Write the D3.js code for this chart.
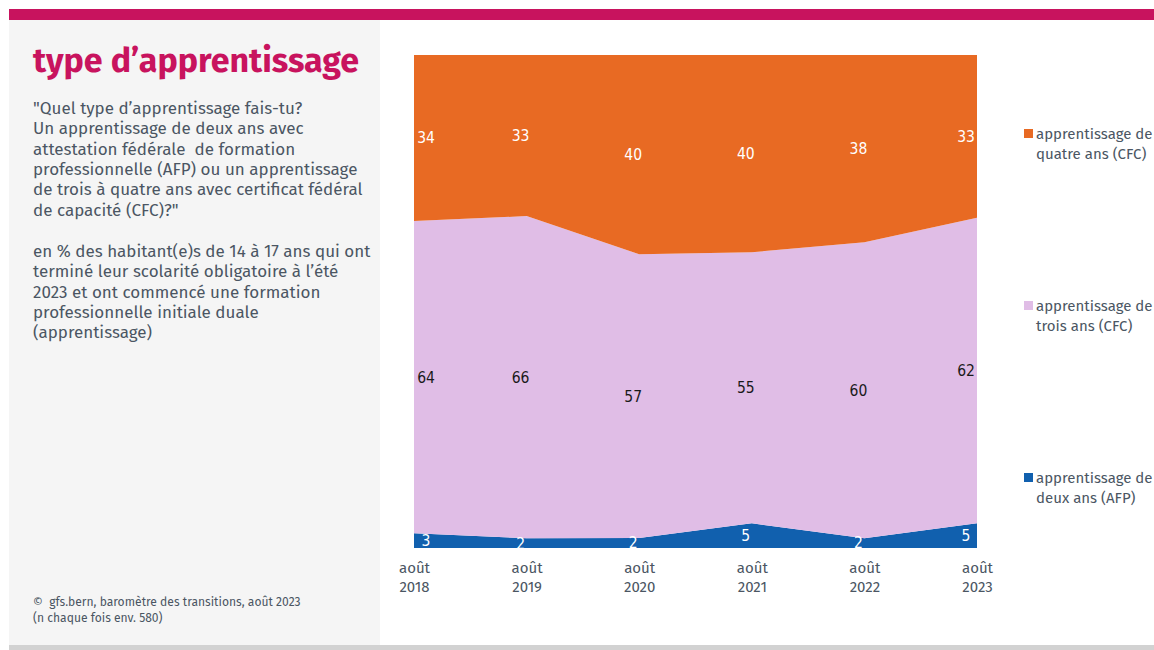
<!DOCTYPE html>
<html>
<head>
<meta charset="utf-8">
<script src="https://cdn.jsdelivr.net/npm/d3@7"></script>
<style>
  body { margin: 0; background: #fff; }
  svg { display: block; }
</style>
</head>
<body>
<script>
// data (in %)
var years = ["2018", "2019", "2020", "2021", "2022", "2023"];
var deuxAns = [3, 2, 2, 5, 2, 5];      // AFP
var troisAns = [64, 66, 57, 55, 60, 62]; // CFC 3 ans
var quatreAns = [34, 33, 40, 40, 38, 33]; // CFC 4 ans
var seriesKeys = ["deux", "trois", "quatre"];
var seriesLabels = [
  ["apprentissage de", "deux ans (AFP)"],
  ["apprentissage de", "trois ans (CFC)"],
  ["apprentissage de", "quatre ans (CFC)"]
];
var seriesColors = ["#1160ae", "#e0bde6", "#e86a23"];
var labelColors = ["#ffffff", "#1a1a1a", "#ffffff"];

var width = 1154, height = 650;
var plot = {left: 414, right: 977, top: 55, bottom: 548};
var textFont = "'Fira Sans', Roboto, 'Noto Sans', sans-serif";
var numFont = "'Liberation Sans Narrow', 'DejaVu Sans Condensed', Roboto, sans-serif";
var grey = "#4b5663";

var rows = years.map(function(y, i) {
  return {year: y, deux: deuxAns[i], trois: troisAns[i], quatre: quatreAns[i]};
});

var stacked = d3.stack().keys(seriesKeys).offset(d3.stackOffsetExpand)(rows);

var x = d3.scalePoint().domain(years).range([plot.left, plot.right]);
var y = d3.scaleLinear().domain([0, 1]).range([plot.bottom, plot.top]);

var svg = d3.select("body").append("svg").attr("width", width).attr("height", height);

// frame: pink top bar, grey side panel, bottom bar
svg.append("rect").attr("x", 9).attr("y", 9).attr("width", width - 9).attr("height", 11).attr("fill", "#c8135e");
svg.append("rect").attr("x", 9).attr("y", 20).attr("width", 371).attr("height", 625).attr("fill", "#f5f5f5");
svg.append("rect").attr("x", 9).attr("y", 645).attr("width", width - 9).attr("height", 5).attr("fill", "#d2d2d2");

svg.append("text")
  .attr("x", 33).attr("y", 72)
  .attr("font-family", textFont).attr("font-weight", "bold")
  .attr("font-size", 34).attr("fill", "#c8135e")
  .text("type d\u2019apprentissage");

var question = [
  "\"Quel type d\u2019apprentissage fais-tu?",
  "Un apprentissage de deux ans avec",
  "attestation f\u00e9d\u00e9rale  de formation",
  "professionnelle (AFP) ou un apprentissage",
  "de trois \u00e0 quatre ans avec certificat f\u00e9d\u00e9ral",
  "de capacit\u00e9 (CFC)?\""
];
var basis = [
  "en % des habitant(e)s de 14 \u00e0 17 ans qui ont",
  "termin\u00e9 leur scolarit\u00e9 obligatoire \u00e0 l\u2019\u00e9t\u00e9",
  "2023 et ont commenc\u00e9 une formation",
  "professionnelle initiale duale",
  "(apprentissage)"
];
svg.append("g").selectAll("text").data(question).enter().append("text")
  .attr("x", 33).attr("y", function(d, i) { return 114 + i * 20.3; })
  .attr("font-family", textFont).attr("font-size", 17).attr("fill", grey)
  .attr("xml:space", "preserve")
  .text(function(d) { return d; });
svg.append("g").selectAll("text").data(basis).enter().append("text")
  .attr("x", 33).attr("y", function(d, i) { return 257 + i * 20.3; })
  .attr("font-family", textFont).attr("font-size", 17).attr("fill", grey)
  .text(function(d) { return d; });

svg.append("g").selectAll("text")
  .data(["\u00a9  gfs.bern, barom\u00e8tre des transitions, ao\u00fbt 2023", "(n chaque fois env. 580)"])
  .enter().append("text")
  .attr("x", 33).attr("y", function(d, i) { return 606 + i * 16; })
  .attr("font-family", textFont).attr("font-size", 12.1).attr("fill", grey)
  .attr("xml:space", "preserve")
  .text(function(d) { return d; });

// stacked areas
var area = d3.area()
  .x(function(d) { return x(d.data.year); })
  .y0(function(d) { return y(d[0]); })
  .y1(function(d) { return y(d[1]); });

svg.append("g").selectAll("path").data(stacked).enter().append("path")
  .attr("d", area)
  .attr("fill", function(d, i) { return seriesColors[i]; });

// value labels in the middle of each band
stacked.forEach(function(s, si) {
  svg.append("g").selectAll("text").data(s).enter().append("text")
    .attr("x", function(d, i) {
      if (i === 0) return x(d.data.year) + 12;
      if (i === years.length - 1) return x(d.data.year) - 11;
      return x(d.data.year) - 6;
    })
    .attr("y", function(d) { return y((d[0] + d[1]) / 2); })
    .attr("dy", "0.35em")
    .attr("text-anchor", "middle")
    .attr("font-family", numFont).attr("font-size", 15.5)
    .attr("fill", labelColors[si])
    .text(function(d) { return d.data[s.key]; });
});

// x axis, two-line labels
var xAxis = d3.axisBottom(x).tickSize(0).tickPadding(0);
var axisG = svg.append("g")
  .attr("transform", "translate(0," + plot.bottom + ")")
  .call(xAxis);
axisG.select(".domain").remove();
axisG.selectAll(".tick text").each(function(d) {
  var t = d3.select(this).text(null)
    .attr("y", 0).attr("dy", null)
    .attr("font-family", textFont).attr("font-size", 15).attr("fill", grey);
  t.append("tspan").attr("x", 0).attr("y", 25).text("ao\u00fbt");
  t.append("tspan").attr("x", 0).attr("y", 44).text(d);
});

// legend (top to bottom: quatre, trois, deux)
var legendY = [129, 301, 473];
[2, 1, 0].forEach(function(si, k) {
  var g = svg.append("g").attr("transform", "translate(1024," + legendY[k] + ")");
  g.append("rect").attr("width", 9).attr("height", 9).attr("fill", seriesColors[si]);
  g.selectAll("text").data(seriesLabels[si]).enter().append("text")
    .attr("x", 12).attr("y", function(d, i) { return 10 + i * 20; })
    .attr("font-family", textFont).attr("font-size", 15).attr("fill", grey)
    .text(function(d) { return d; });
});
</script>
</body>
</html>
